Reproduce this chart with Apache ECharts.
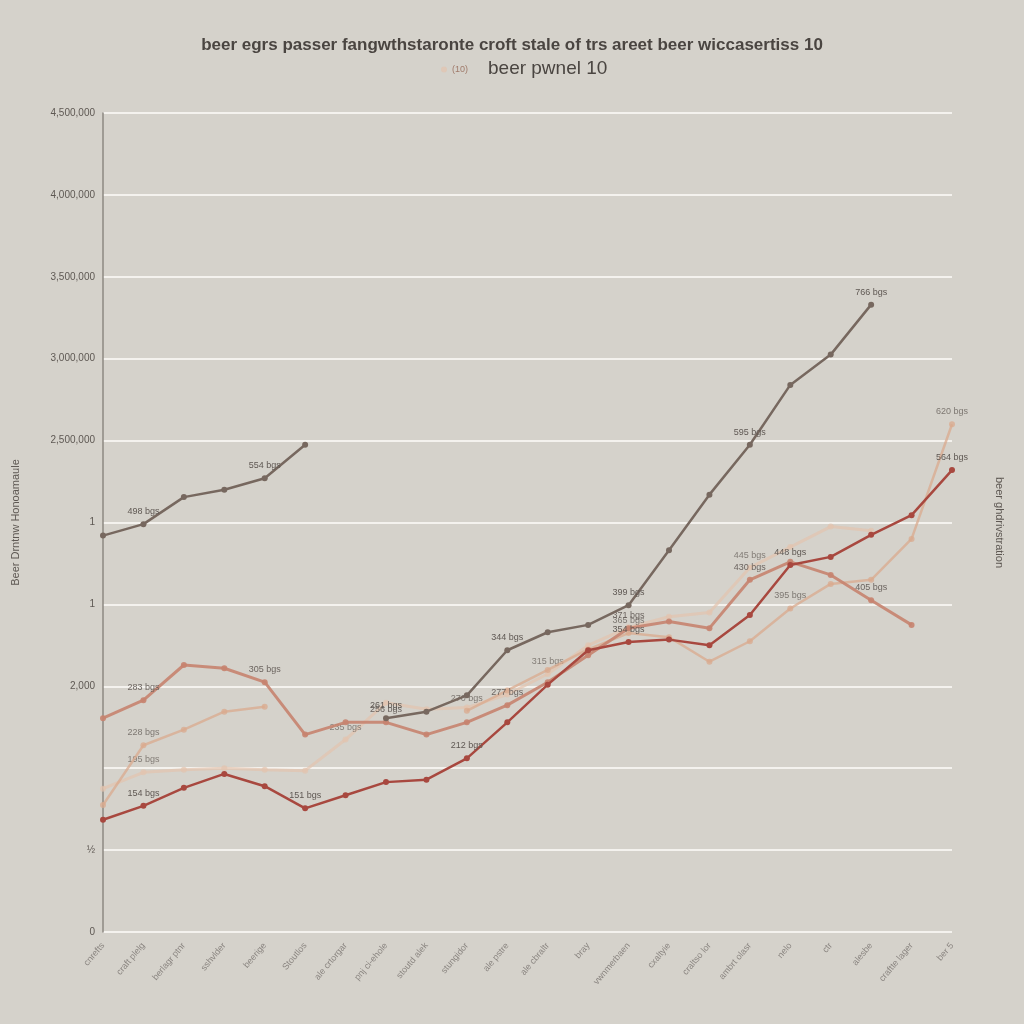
<!DOCTYPE html>
<html>
<head>
<meta charset="utf-8">
<script src="https://cdn.jsdelivr.net/npm/echarts@6/dist/echarts.min.js"></script>
<style>
  html, body { margin: 0; padding: 0; background: #d5d2cb; }
  #main { width: 1024px; height: 1024px; }
</style>
</head>
<body>
<div id="main"></div>
<script>
// categories along the bottom (rotated, hard to read in the source)
var categories = [
  'cnrefts', 'craft plelg', 'berlagr ptnr', 'sshvlder', 'beerige', 'Stoutlos',
  'ale crtorgar', 'pnj ci-ehole', 'stoutd alek', 'stungidor', 'ale pstre',
  'ale cbraltr', 'bray', 'vwnmerbaen', 'cxaltyie', 'craltso lor',
  'ambrt olasr', 'nelo', 'ctr', 'alesbe', 'craftte lager', 'ber 5'
];
var yTickLabels = ['0', '\u00bd', '', '2,000', '1', '1', '2,500,000', '3,000,000', '3,500,000', '4,000,000', '4,500,000'];

var grayValues   = [4.84, 4.98, 5.31, 5.40, 5.54, 5.95, null, 2.61, 2.69, 2.89, 3.44, 3.66, 3.75, 3.99, 4.66, 5.34, 5.95, 6.68, 7.05, 7.66, null, null];
var redValues    = [1.37, 1.54, 1.76, 1.93, 1.78, 1.51, 1.67, 1.83, 1.86, 2.12, 2.56, 3.02, 3.44, 3.54, 3.57, 3.50, 3.87, 4.48, 4.58, 4.85, 5.09, 5.64];
var salmonValues = [2.61, 2.83, 3.26, 3.22, 3.05, 2.41, 2.56, 2.56, 2.41, 2.56, 2.77, 3.05, 3.38, 3.71, 3.79, 3.71, 4.30, 4.52, 4.36, 4.05, 3.75, null];
var peachValues  = [1.55, 2.28, 2.47, 2.69, 2.75, null, null, null, null, 2.70, 2.95, 3.20, 3.45, 3.65, 3.60, 3.30, 3.55, 3.95, 4.25, 4.30, 4.80, 6.20];
var paleValues   = [1.75, 1.95, 1.98, 2.00, 1.98, 1.97, 2.35, 2.80, 2.72, 2.74, 2.90, 3.15, 3.50, 3.72, 3.85, 3.90, 4.45, 4.70, 4.95, 4.90, null, null];

var chart = echarts.init(document.getElementById('main'));

function lineSeries(name, data, color, width, opacity, z, labelEvery) {
  return {
    name: name,
    type: 'line',
    data: data,
    z: z,
    connectNulls: false,
    symbol: 'circle',
    symbolSize: 6,
    lineStyle: { color: color, width: width, opacity: opacity },
    itemStyle: { color: color, opacity: opacity },
    label: {
      show: true,
      position: 'top',
      fontSize: 9,
      color: '#5f5853',
      opacity: opacity,
      formatter: function (p) {
        return p.dataIndex % labelEvery === 1 ? (p.value * 100).toFixed(0) + ' bgs' : '';
      }
    }
  };
}

option = {
  backgroundColor: '#d5d2cb',
  animation: false,
  title: [{
    text: 'beer egrs passer fangwthstaronte croft stale of trs areet beer wiccasertiss 10',
    left: 'center',
    top: 32,
    textStyle: { fontSize: 17, fontWeight: 'bold', color: '#4a4541', fontFamily: 'Liberation Sans' }
  }, {
    text: 'beer pwnel 10',
    left: 483,
    top: 54,
    textStyle: { fontSize: 19, fontWeight: 'normal', color: '#4a4541', fontFamily: 'Liberation Sans' }
  }],
  legend: {
    show: true,
    left: 436,
    top: 60,
    itemWidth: 6,
    itemHeight: 6,
    data: [{ name: '(10)', icon: 'circle' }],
    textStyle: { fontSize: 9, color: '#a07a6a' }
  },
  grid: { left: 103, right: 72, top: 113, bottom: 92 },
  xAxis: {
    type: 'category',
    data: categories,
    boundaryGap: false,
    axisLine: { show: false },
    axisTick: { show: false },
    axisLabel: { rotate: 50, fontSize: 9, color: '#8a8580', margin: 12, interval: 0 }
  },
  yAxis: [{
    type: 'value',
    min: 0,
    max: 10,
    interval: 1,
    name: 'Beer Drntnw Honoamaule',
    nameLocation: 'middle',
    nameGap: 82,
    nameTextStyle: { fontSize: 11, color: '#5e5853' },
    axisLine: { show: true, lineStyle: { color: '#8d8882', width: 1.5 } },
    axisTick: { show: false },
    axisLabel: {
      fontSize: 10,
      color: '#5e5853',
      formatter: function (v) { return yTickLabels[Math.round(v)]; }
    },
    splitLine: { lineStyle: { color: '#f4f2ee', width: 2 } }
  }, {
    type: 'value',
    min: 0,
    max: 10,
    interval: 1,
    position: 'right',
    name: 'beer ghdrivstration',
    nameLocation: 'middle',
    nameGap: 42,
    nameRotate: -90,
    nameTextStyle: { fontSize: 11, color: '#5e5853' },
    axisLine: { show: false },
    axisTick: { show: false },
    axisLabel: { show: false },
    splitLine: { show: false }
  }],
  series: [
    lineSeries('(10)', paleValues, '#e2c3ae', 3, 0.7, 1, 5),
    lineSeries('peach', peachValues, '#d9a98e', 2.5, 0.75, 2, 4),
    lineSeries('salmon', salmonValues, '#c7836f', 3, 0.9, 3, 3),
    lineSeries('red', redValues, '#a8483f', 2.5, 1, 4, 4),
    lineSeries('gray', grayValues, '#77685f', 2.5, 1, 5, 3)
  ]
};
chart.setOption(option);
</script>
</body>
</html>
